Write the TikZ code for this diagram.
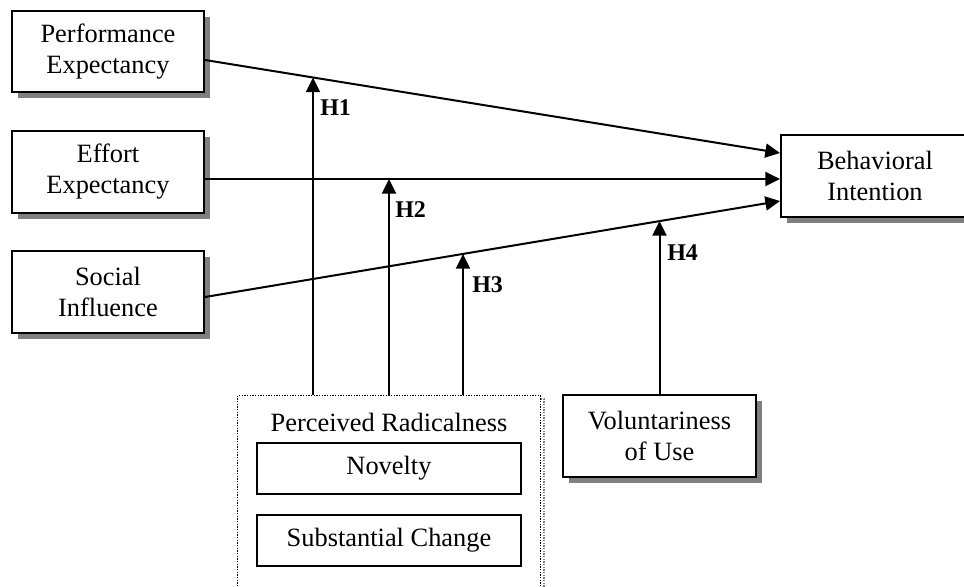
\documentclass[tikz,border=0pt]{standalone}
\usepackage{fontspec}
\setmainfont{Liberation Serif}
\usetikzlibrary{arrows.meta,calc,shadows,positioning}

\tikzset{
  box/.style={draw, line width=1.5pt, fill=white, align=center, inner sep=2pt,
    font=\fontsize{19.8}{23.25}\selectfont},
  construct/.style={box, minimum width=144pt, minimum height=61pt,
    drop shadow={shadow xshift=4.5pt, shadow yshift=-4.5pt, fill=gray, opacity=1}},
  dimension/.style={box, minimum width=198pt, minimum height=38pt,
    drop shadow={shadow xshift=1pt, shadow yshift=-1pt, fill=gray, opacity=1}},
  radbox/.style={draw, fill=white, line width=1pt, dash pattern=on 1pt off 1pt,
    minimum width=227pt, minimum height=180pt, inner sep=0pt},
  radshadow/.style={draw=gray, line width=1pt, dash pattern=on 1pt off 1pt},
  effect/.style={line width=1.5pt, -{Triangle[length=11pt,width=10.5pt]}},
  hyp/.style={font=\fontsize{18}{20}\selectfont\bfseries, anchor=west, inner sep=0pt}
}

\begin{document}
\begin{tikzpicture}[x=0.75pt, y=-0.75pt]
  \useasboundingbox (0,0) rectangle (964,586);
  \clip (0,0) rectangle (964,586);

  % predictors and outcome
  \node[construct] (pe) at (108,51.5) {Performance\\Expectancy};
  \node[construct] (ee) at (108,172) {Effort\\Expectancy};
  \node[construct] (si) at (108,292) {Social\\Influence};
  \node[construct, minimum width=180pt, anchor=west] (bi) at (780,176) {};
  \node[box, draw=none, fill=none] (bitext) at (875,176) {Behavioral\\Intention};

  % moderators
  \draw[radshadow] (241,399) rectangle (544,660);
  \node[radbox, anchor=north west] (radical) at (237,395) {};
  \node[box, draw=none, fill=none] (radtitle) at (389,422) {Perceived Radicalness};
  \node[dimension] (nov) at (389,468.5) {Novelty};
  \node[dimension] (sub) at (389,540.5) {Substantial Change};
  \node[construct, minimum width=144.75pt] (vu) at (659.5,436) {Voluntariness\\of Use};

  % main effects
  \coordinate (pe-o) at ($(pe.east)+(0,8.5)$);
  \coordinate (ee-o) at ($(ee.east)+(0,7)$);
  \coordinate (si-o) at ($(si.east)+(0,5)$);
  \coordinate (bi-1) at ($(bi.west)+(0,-23)$);
  \coordinate (bi-2) at ($(bi.west)+(0,3)$);
  \coordinate (bi-3) at ($(bi.west)+(0,25)$);
  \draw[effect] (pe-o) -- (bi-1);
  \draw[effect] (ee-o) -- (bi-2);
  \draw[effect] (si-o) -- (bi-3);

  % moderating effects
  \coordinate (m1) at ($(pe-o)!0.1878!(bi-1)$);
  \coordinate (m2) at ($(ee-o)!0.32!(bi-2)$);
  \coordinate (m3) at ($(si-o)!0.4487!(bi-3)$);
  \coordinate (m4) at ($(si-o)!0.7913!(bi-3)$);
  \draw[effect] (m1 |- radical.north) -- (m1);
  \draw[effect] (m2 |- radical.north) -- (m2);
  \draw[effect] (m3 |- radical.north) -- (m3);
  \draw[effect] (vu.north) -- (vu.north |- m4);

  \node[hyp] (h1) at (320,108) {H1};
  \node[hyp] (h2) at (395,210) {H2};
  \node[hyp] (h3) at (472,285) {H3};
  \node[hyp] (h4) at (667,253) {H4};
\end{tikzpicture}
\end{document}
